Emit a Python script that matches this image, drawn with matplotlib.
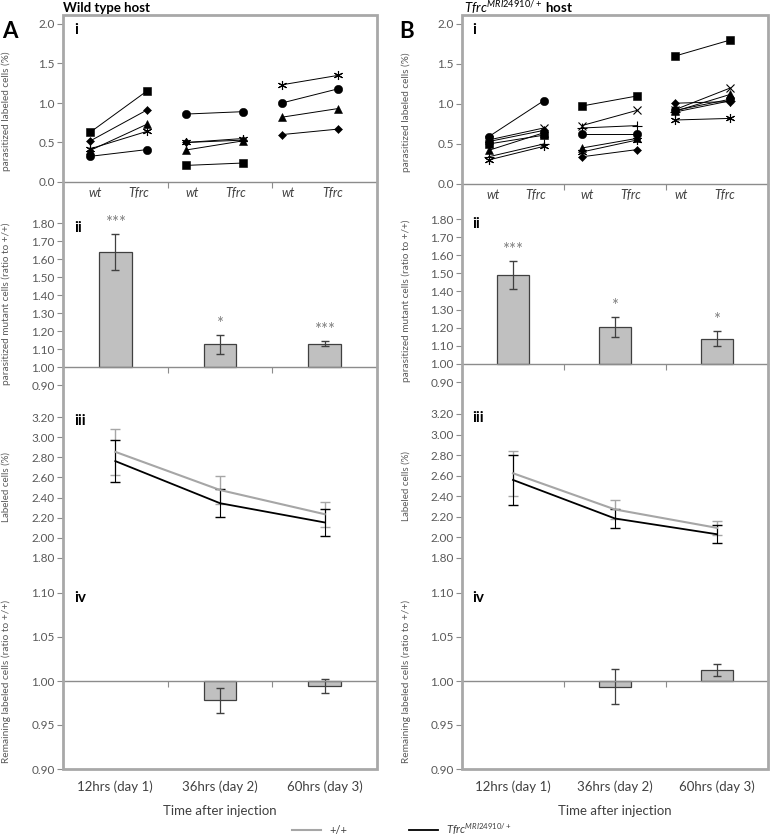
import numpy as np
import matplotlib.pyplot as plt
from matplotlib.patches import Rectangle
from matplotlib.lines import Line2D

plt.rcParams['font.family'] = ['Lato', 'DejaVu Sans']
plt.rcParams['mathtext.fontset'] = 'custom'
plt.rcParams['mathtext.it'] = 'Lato:italic'
plt.rcParams['mathtext.rm'] = 'Lato'
plt.rcParams['mathtext.bf'] = 'Lato:bold'

W, H = 771, 838

# ---- data ----
groups = ['12hrs (day 1)', '36hrs (day 2)', '60hrs (day 3)']
pair_labels = ['wt', 'Tfrc']

# panel i: one entry per mouse, wt -> Tfrc
A_i_mice = [['sq', 'di', 'tri', 'star', 'ci'],
            ['ci', 'star', 'di', 'tri', 'sq'],
            ['star', 'ci', 'tri', 'di']]
A_i_wt = [[0.63, 0.52, 0.40, 0.42, 0.325],
          [0.86, 0.50, 0.50, 0.405, 0.21],
          [1.23, 1.00, 0.82, 0.60]]
A_i_tfrc = [[1.15, 0.91, 0.73, 0.64, 0.41],
            [0.89, 0.55, 0.53, 0.52, 0.24],
            [1.35, 1.18, 0.93, 0.67]]

B_i_mice = [['ci', 'x', 'di', 'sq', 'tri', 'plus', 'star'],
            ['sq', 'x', 'plus', 'ci', 'tri', 'star', 'di'],
            ['sq', 'di', 'x', 'tri', 'ci', 'plus', 'star']]
B_i_wt = [[0.59, 0.55, 0.53, 0.50, 0.42, 0.34, 0.30],
          [0.975, 0.73, 0.70, 0.63, 0.45, 0.40, 0.34],
          [1.60, 1.01, 0.93, 0.91, 0.92, 0.90, 0.80]]
B_i_tfrc = [[1.04, 0.70, 0.67, 0.61, 0.64, 0.50, 0.47],
            [1.10, 0.92, 0.73, 0.63, 0.57, 0.55, 0.43],
            [1.80, 1.03, 1.20, 1.12, 1.06, 1.04, 0.82]]

# panel ii: parasitized mutant cells, ratio to +/+
A_ii = [1.64, 1.125, 1.13]
A_ii_err = [0.10, 0.052, 0.014]
A_ii_sig = ['***', '*', '***']
B_ii = [1.49, 1.205, 1.14]
B_ii_err = [0.078, 0.055, 0.043]
B_ii_sig = ['***', '*', '*']

# panel iii: labeled cells (%)
A_iii_wt = [2.854, 2.475, 2.235]
A_iii_wt_err = [0.23, 0.14, 0.125]
A_iii_mut = [2.762, 2.344, 2.153]
A_iii_mut_err = [0.21, 0.14, 0.13]
B_iii_wt = [2.624, 2.272, 2.093]
B_iii_wt_err = [0.22, 0.09, 0.07]
B_iii_mut = [2.559, 2.184, 2.031]
B_iii_mut_err = [0.24, 0.09, 0.09]

# panel iv: remaining labeled cells, ratio to +/+
A_iv = [1.00, 0.978, 0.9947]
A_iv_err = [0.0, 0.014, 0.008]
B_iv = [1.00, 0.9936, 1.0125]
B_iv_err = [0.0, 0.02, 0.007]

MARKERS = {'sq': ('s', 5.3), 'di': ('D', 3.6), 'tri': ('^', 5.5), 'ci': ('o', 6),
           'star': ((6, 2, 0), 6.5), 'x': ('x', 6), 'plus': ('+', 6.5)}

TICK_C = '#8c8c8c'
LAB_C = '#595959'
FRAME_C = '#a8a8a8'

fig = plt.figure(figsize=(W / 100, H / 100), dpi=100)


def add_ax(x0, x1, y_lo, y_hi, lim):
    ax = fig.add_axes([x0 / W, 1 - y_lo / H, (x1 - x0) / W, (y_lo - y_hi) / H])
    ax.set_xlim(0, 3)
    ax.set_ylim(*lim)
    ax.patch.set_visible(False)
    for s in ['top', 'right', 'left', 'bottom']:
        ax.spines[s].set_visible(False)
    ax.tick_params(axis='y', direction='out', length=4, color=TICK_C, labelcolor=LAB_C,
                   labelsize=8.5, pad=2)
    ax.tick_params(axis='x', direction='out', length=4, color=TICK_C, labelbottom=False)
    return ax


def base_line(ax, yval):
    ax.spines['bottom'].set_visible(True)
    ax.spines['bottom'].set_position(('data', yval))
    ax.spines['bottom'].set_color(TICK_C)
    ax.spines['bottom'].set_linewidth(1)
    ax.set_xticks([1, 2])


def bars(ax, xc, vals, errs):
    vals = np.array(vals)
    errs = np.array(errs)
    keep = vals != 1.0          # a ratio of exactly 1 has no visible bar
    ax.bar(xc[keep], vals[keep] - 1, bottom=1, width=0.31, color='#c0c0c0',
           edgecolor='#404040', lw=0.9)
    ax.errorbar(xc[keep], vals[keep], yerr=errs[keep], fmt='none', ecolor='#404040',
                elinewidth=0.9, capsize=3)


def column(x0, x1, px, mice, wt, tfrc, ii, ii_err, ii_sig,
           iii_wt, iii_wt_err, iii_mut, iii_mut_err, iv, iv_err, ylabx):
    xc = np.arange(3) + 0.5
    labx = (ylabx - x0) / (x1 - x0)

    # i
    ax = add_ax(x0, x1, px[0], px[1], (0, 2.0))
    ax.set_yticks(np.arange(0, 2.01, 0.5))
    ax.yaxis.set_major_formatter('{x:.1f}')
    base_line(ax, 0)
    for g in range(3):
        xw = 0.26 + 0.915 * g
        for m, a, b in zip(mice[g], wt[g], tfrc[g]):
            mk, ms = MARKERS[m]
            ax.plot([xw, xw + 0.54], [a, b], color='black', lw=0.7, marker=mk,
                    markersize=ms, markeredgewidth=0.8 if m in ('x', 'plus', 'star') else 0.4,
                    clip_on=False)
        for lab, xl in zip(pair_labels, [0.31 + 0.92 * g, 0.72 + 0.93 * g]):
            ax.annotate(lab, xy=(xl, 0), xycoords='data', xytext=(0, -11),
                        textcoords='offset pixels', ha='center', va='center',
                        fontsize=9, style='italic', color='#404040')
    ax.set_ylabel('parasitized labeled cells (%)', fontsize=7.2, color=LAB_C)
    ax.yaxis.set_label_coords(labx, 0.45)
    ax.text(0.035, 0.96, 'i', transform=ax.transAxes, fontsize=11, fontweight='bold', va='center')

    # ii
    ax = add_ax(x0, x1, px[2], px[3], (0.9, 1.8))
    ax.set_yticks(np.arange(0.9, 1.801, 0.1))
    ax.yaxis.set_major_formatter('{x:.2f}')
    base_line(ax, 1.0)
    bars(ax, xc, ii, ii_err)
    for x, v, e, s in zip(xc, ii, ii_err, ii_sig):
        ax.text(x, v + e + 0.06, s, ha='center', va='center', fontsize=12, color='#7f7f7f')
    ax.set_ylabel('parasitized mutant cells (ratio to +/+)', fontsize=7.2, color=LAB_C)
    ax.yaxis.set_label_coords(labx, 0.5)
    ax.text(0.035, 0.97, 'ii', transform=ax.transAxes, fontsize=11, fontweight='bold', va='center')

    # iii
    ax = add_ax(x0, x1, px[4], px[5], (1.8, 3.2))
    ax.set_yticks(np.arange(1.8, 3.201, 0.2))
    ax.yaxis.set_major_formatter('{x:.2f}')
    ax.set_xticks([])
    ax.errorbar(xc, iii_wt, yerr=iii_wt_err, color='#a6a6a6', lw=1.5, elinewidth=1.0, capsize=3.5)
    ax.errorbar(xc, iii_mut, yerr=iii_mut_err, color='black', lw=1.3, elinewidth=0.8, capsize=3.5)
    ax.set_ylabel('Labeled cells (%)', fontsize=7, color=LAB_C)
    ax.yaxis.set_label_coords(labx, 0.5)
    ax.text(0.035, 0.97, 'iii', transform=ax.transAxes, fontsize=11, fontweight='bold', va='center')

    # iv
    ax = add_ax(x0, x1, px[6], px[7], (0.9, 1.1))
    ax.set_yticks(np.arange(0.9, 1.101, 0.05))
    ax.yaxis.set_major_formatter('{x:.2f}')
    base_line(ax, 1.0)
    bars(ax, xc, iv, iv_err)
    for x, lab in zip(xc, groups):
        ax.annotate(lab, xy=(x, 0), xycoords=('data', 'axes fraction'), xytext=(0, -18),
                    textcoords='offset pixels', ha='center', va='center', fontsize=9.5, color='#404040')
    ax.annotate('Time after injection', xy=(0.5, 0), xycoords='axes fraction', xytext=(0, -42),
                textcoords='offset pixels', ha='center', va='center', fontsize=9.5, color='#404040')
    ax.set_ylabel('Remaining labeled cells (ratio to +/+)', fontsize=7.3, color=LAB_C)
    ax.yaxis.set_label_coords(labx, 0.5)
    ax.text(0.035, 0.97, 'iv', transform=ax.transAxes, fontsize=11, fontweight='bold', va='center')

    # outer frame
    fig.patches.append(Rectangle((x0 / W, 1 - 769 / H), (x1 - x0) / W, (769 - 15) / H,
                                 transform=fig.transFigure, fill=False, edgecolor=FRAME_C,
                                 lw=2, zorder=5))


column(63, 377, [182, 24, 385, 223, 558, 417, 769, 593],
       A_i_mice, A_i_wt, A_i_tfrc, A_ii, A_ii_err, A_ii_sig,
       A_iii_wt, A_iii_wt_err, A_iii_mut, A_iii_mut_err, A_iv, A_iv_err, ylabx=11)
column(462, 768, [184, 24, 382, 219, 558, 414, 769, 593],
       B_i_mice, B_i_wt, B_i_tfrc, B_ii, B_ii_err, B_ii_sig,
       B_iii_wt, B_iii_wt_err, B_iii_mut, B_iii_mut_err, B_iv, B_iv_err, ylabx=411)

# headings
fig.text(2 / W, 1 - 31 / H, 'A', fontsize=16, fontweight='bold', va='center')
fig.text(399 / W, 1 - 31 / H, 'B', fontsize=16, fontweight='bold', va='center')
fig.text(63 / W, 1 - 8 / H, 'Wild type host', fontsize=9.5, fontweight='bold', va='center')
fig.text(464 / W, 1 - 8 / H, r'$\mathit{Tfrc}^{\mathit{MRI24910/+}}$' + ' host', fontsize=9.5,
         fontweight='bold', va='center')

handles = [Line2D([], [], color='#a6a6a6', lw=1.5), Line2D([], [], color='black', lw=1.3)]
fig.legend(handles, ['+/+', r'$\mathit{Tfrc}^{\mathit{MRI24910/+}}$'], loc='center',
           bbox_to_anchor=(402 / W, 1 - 829 / H), ncol=2, frameon=False, fontsize=8,
           handlelength=2.6, columnspacing=5.5, labelcolor='#404040')

fig.savefig('out.png', dpi=100)
